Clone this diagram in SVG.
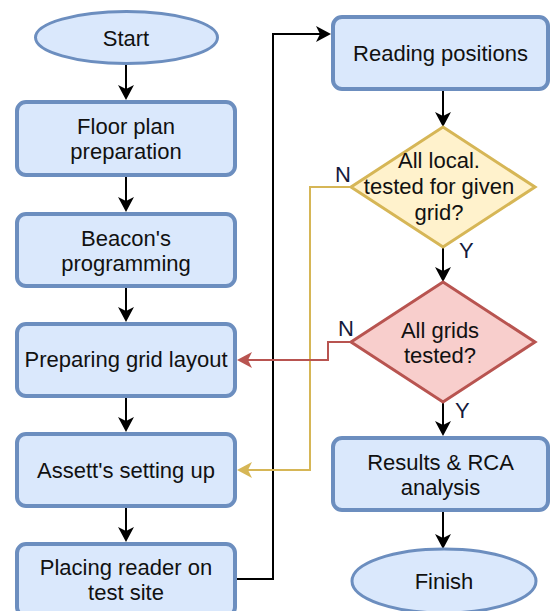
<svg xmlns="http://www.w3.org/2000/svg" width="551" height="611" viewBox="0 0 551 611">
<style>
.box{fill:#dae8fc;stroke:#6c8ebf;stroke-width:4}
.term{fill:#dae8fc;stroke:#6c8ebf;stroke-width:3}
.dy{fill:#fff2cc;stroke:#d6b656;stroke-width:3}
.dr{fill:#f8cecc;stroke:#b85450;stroke-width:3}
text{font-family:"Liberation Sans",Arial,sans-serif;font-size:22px;fill:#111;text-anchor:middle}
.lbl{text-anchor:start;fill:#141a3c}
.c{fill:none;stroke:#000;stroke-width:2}
.cy{fill:none;stroke:#d6b656;stroke-width:2}
.cr{fill:none;stroke:#b85450;stroke-width:2}
</style>
<defs>
<marker id="ab" markerUnits="userSpaceOnUse" markerWidth="16" markerHeight="16" refX="4" refY="8" orient="auto"><path d="M0,0 L15,8 L0,16 L4,8 Z" fill="#000"/></marker>
<marker id="ay" markerUnits="userSpaceOnUse" markerWidth="16" markerHeight="16" refX="4" refY="8" orient="auto"><path d="M0,0 L15,8 L0,16 L4,8 Z" fill="#d6b656"/></marker>
<marker id="ar" markerUnits="userSpaceOnUse" markerWidth="16" markerHeight="16" refX="4" refY="8" orient="auto"><path d="M0,0 L15,8 L0,16 L4,8 Z" fill="#b85450"/></marker>
</defs>
<g id="connectors">
<path class="c" d="M126,64 V89" marker-end="url(#ab)"/>
<path class="c" d="M126,177 V201" marker-end="url(#ab)"/>
<path class="c" d="M126,288 V311" marker-end="url(#ab)"/>
<path class="c" d="M126,398 V421" marker-end="url(#ab)"/>
<path class="c" d="M126,508 V531" marker-end="url(#ab)"/>
<path class="c" d="M443,91 V116" marker-end="url(#ab)"/>
<path class="c" d="M443,247 V271" marker-end="url(#ab)"/>
<path class="c" d="M443,402 V425" marker-end="url(#ab)"/>
<path class="c" d="M443,512 V538" marker-end="url(#ab)"/>
<path class="c" d="M237,579 H273 V34 H320" marker-end="url(#ab)"/>
<path class="cy" d="M351,187 H310 V470 H248" marker-end="url(#ay)"/>
<path class="cr" d="M351,342 H328 V360 H248" marker-end="url(#ar)"/>
<text class="lbl" x="335" y="182">N</text>
<text class="lbl" x="459" y="258">Y</text>
<text class="lbl" x="338" y="336">N</text>
<text class="lbl" x="455" y="418">Y</text>
</g>
<g id="start"><ellipse class="term" cx="126.5" cy="37.5" rx="91" ry="26"/><text x="126" y="46">Start</text></g>
<g id="floor"><rect class="box" x="17" y="102" width="218" height="73" rx="9"/><text x="126" y="134">Floor plan</text><text x="126" y="159">preparation</text></g>
<g id="beacon"><rect class="box" x="17" y="214" width="218" height="72" rx="9"/><text x="126" y="245.5">Beacon's</text><text x="126" y="270.5">programming</text></g>
<g id="grid"><rect class="box" x="17" y="324" width="218" height="72" rx="9"/><text x="126" y="367">Preparing grid layout</text></g>
<g id="assett"><rect class="box" x="17" y="434" width="218" height="72" rx="9"/><text x="126" y="478">Assett's setting up</text></g>
<g id="placing"><rect class="box" x="17" y="544" width="218" height="72" rx="9"/><text x="126" y="575">Placing reader on</text><text x="126" y="600">test site</text></g>
<g id="reading"><rect class="box" x="333" y="17" width="215" height="72" rx="9"/><text x="440.5" y="61">Reading positions</text></g>
<g id="local"><path class="dy" d="M443,127 L535,187 L443,247 L351,187 Z"/><text x="439" y="168">All local.</text><text x="439" y="194">tested for given</text><text x="439" y="220">grid?</text></g>
<g id="grids"><path class="dr" d="M443,282 L535,342 L443,402 L351,342 Z"/><text x="440" y="338">All grids</text><text x="440" y="363">tested?</text></g>
<g id="results"><rect class="box" x="333" y="438" width="215" height="72" rx="9"/><text x="440.5" y="470">Results &amp; RCA</text><text x="440.5" y="495">analysis</text></g>
<g id="finish"><ellipse class="term" cx="444" cy="581" rx="92" ry="32"/><text x="444" y="589">Finish</text></g>
</svg>
